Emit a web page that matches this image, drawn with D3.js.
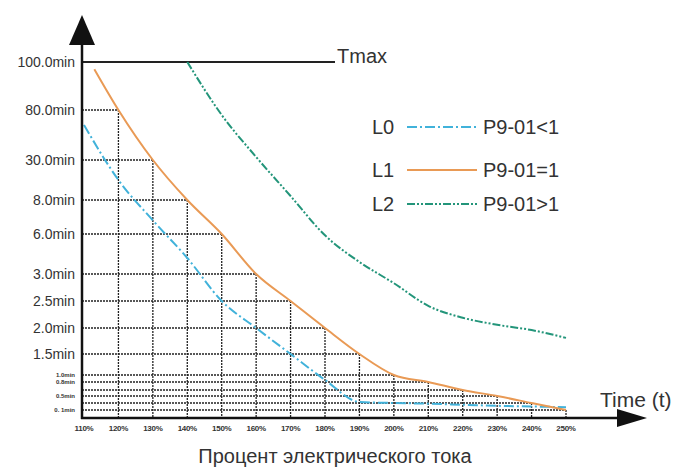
<!DOCTYPE html>
<html><head><meta charset="utf-8">
<script src="https://cdn.jsdelivr.net/npm/d3@7"></script>
<style>html,body{margin:0;padding:0;background:#fff;}svg{display:block;font-family:"Liberation Sans",Arial,sans-serif;}</style>
</head><body><div id="chart"></div>
<script>
// ---- data ----
const xTicks = [110,120,130,140,150,160,170,180,190,200,210,220,230,240,250];
const xTickLabels = ["110%","120%","130%","140%","150%","160%","170%","180%","190%","200%","210%","220%","230%","240%","250%"];
const yLevels = [0.1,0.3,0.5,0.6,0.8,1.0,1.5,2.0,2.5,3.0,6.0,8.0,30,80,100];
const yLabels = ["0. 1min","","0.5min","","0.8min","1.0min","1.5min","2.0min","2.5min","3.0min","6.0min","8.0min","30.0min","80.0min","100.0min"];
const smallLabelMax = 1.0;
const l0X = [110,120,130,140,150,160,170,180,190,200,210,220,230,240,250];
const l0Y = [65,19,6.8,4.2,2.5,2.0,1.5,0.86,0.33,0.3,0.28,0.25,0.22,0.2,0.18];
const l1X = [113,120,130,140,150,160,170,180,190,200,210,220,230,240,250];
const l1Y = [97,80,30,8,6,3,2.5,2.0,1.5,1.0,0.8,0.6,0.5,0.3,0.1];
const l2X = [140,150,160,170,180,190,200,210,220,230,240,250];
const l2Y = [100,75,33,10.2,5.9,3.9,2.83,2.41,2.19,2.06,1.96,1.81];
const gridX = [120,130,140,150,160,170,180,190,200,210,220,230,240,250];
const gridY = [80,30,8,6,3,2.5,2.0,1.5,1.0,0.8,0.6,0.5,0.3,0.1];
const tmaxValue = 100;
const legendNames = ["L0","L1","L2"];
const legendTexts = ["P9-01<1","P9-01=1","P9-01>1"];
const seriesColors = ["#41b2da","#e99a55","#23957a"];
const seriesDash = ["10,3,2,3","none","8,2,2,2,2,2"];

// ---- layout ----
const W = 673, H = 468;
const axisX = 82, axisY = 418;
const svg = d3.select("#chart").append("svg").attr("width", W).attr("height", H);
const x = d3.scaleLinear().domain([110,250]).range([84,566]);
const yPos = [410,403,396,390,382,375,354,328,301,274,234,200,160,110,62];
const y = d3.scaleLinear().domain(yLevels).range(yPos);

// grid (staircase)
const grid = svg.append("g").attr("stroke","#222").attr("stroke-width",1.3).attr("stroke-dasharray","2,1");
gridX.forEach((gx,i)=>{
  grid.append("line").attr("x1",axisX).attr("x2",x(gx)).attr("y1",y(gridY[i])).attr("y2",y(gridY[i]));
  grid.append("line").attr("x1",x(gx)).attr("x2",x(gx)).attr("y1",y(gridY[i])).attr("y2",axisY);
});

// Tmax line
svg.append("line").attr("x1",axisX).attr("x2",335).attr("y1",y(tmaxValue)).attr("y2",y(tmaxValue))
  .attr("stroke","#222").attr("stroke-width",2);
svg.append("text").attr("x",337).attr("y",y(tmaxValue)+1).attr("font-size",20).attr("fill","#333").text("Tmax");

// series
const line = d3.line().curve(d3.curveMonotoneX);
const series = [[l0X,l0Y],[l1X,l1Y],[l2X,l2Y]];
series.forEach((s,i)=>{
  const pts = s[0].map((xv,j)=>[x(xv), y(s[1][j])]);
  svg.append("path").attr("d",line(pts)).attr("fill","none")
    .attr("stroke",seriesColors[i]).attr("stroke-width",2)
    .attr("stroke-dasharray",seriesDash[i]);
});

// axes
svg.append("line").attr("x1",axisX).attr("x2",axisX).attr("y1",40).attr("y2",axisY+1)
  .attr("stroke","#111").attr("stroke-width",2.5);
svg.append("path").attr("d",`M${axisX},15 L${axisX+13},45 L${axisX-13},45 Z`).attr("fill","#111");
svg.append("line").attr("x1",axisX-1).attr("x2",622).attr("y1",axisY).attr("y2",axisY)
  .attr("stroke","#111").attr("stroke-width",2.5);
svg.append("path").attr("d",`M647,${axisY} L617,${axisY-9} L617,${axisY+9} Z`).attr("fill","#111");

// y labels
yLevels.forEach((v,i)=>{
  if(!yLabels[i]) return;
  const small = v <= smallLabelMax;
  svg.append("text").attr("x",75).attr("y",y(v)).attr("dy","0.35em")
    .attr("text-anchor","end").attr("font-size", small?6:14)
    .attr("font-weight", small?"bold":"normal")
    .attr("fill","#333").text(yLabels[i]);
});

// x labels
xTicks.forEach((t,i)=>{
  svg.append("text").attr("x",x(t)).attr("y",431).attr("text-anchor","middle")
    .attr("font-size",8).attr("font-weight","bold").attr("fill","#333")
    .attr("letter-spacing","-0.3").text(xTickLabels[i]);
});

// legend
const legY = [127,170,204];
legendNames.forEach((n,i)=>{
  svg.append("text").attr("x",372).attr("y",legY[i]).attr("dy","0.35em").attr("font-size",20).attr("fill","#333").text(n);
  svg.append("line").attr("x1",407).attr("x2",477).attr("y1",legY[i]).attr("y2",legY[i])
    .attr("stroke",seriesColors[i]).attr("stroke-width",2).attr("stroke-dasharray",seriesDash[i]);
  svg.append("text").attr("x",483).attr("y",legY[i]).attr("dy","0.35em").attr("font-size",20).attr("fill","#333").text(legendTexts[i]);
});

// axis titles
svg.append("text").attr("x",600).attr("y",407).attr("font-size",21).attr("fill","#333").text("Time (t)");
svg.append("text").attr("x",335).attr("y",463).attr("text-anchor","middle").attr("font-size",20).attr("fill","#333").text("Процент электрического тока");
</script></body></html>
